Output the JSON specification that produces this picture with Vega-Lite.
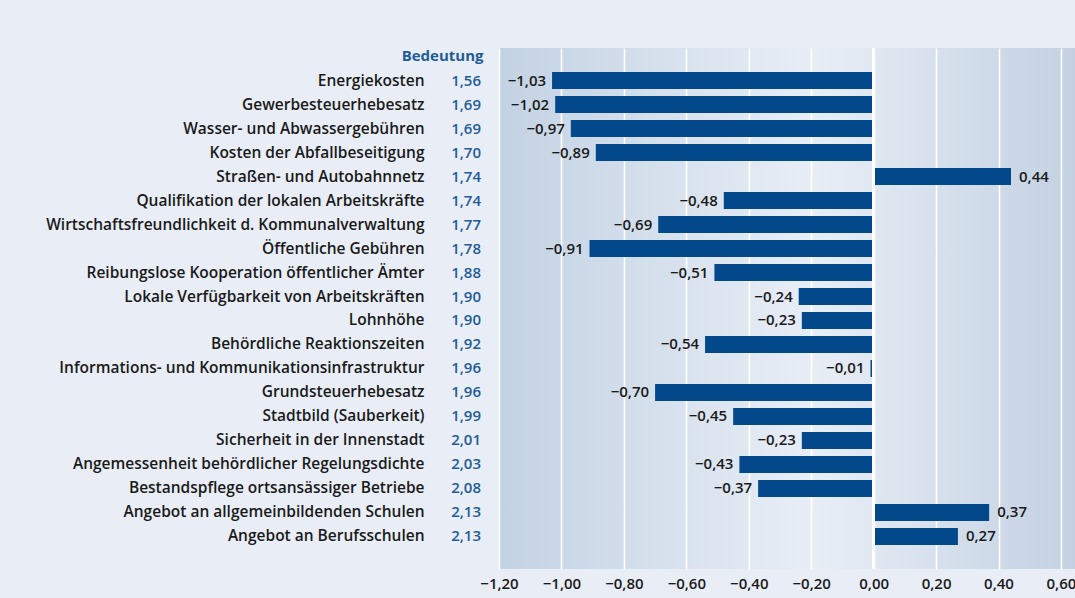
{
  "$schema": "https://vega.github.io/schema/vega-lite/v6.json",
  "autosize": "none",
  "width": 576,
  "height": 521,
  "padding": {"left": 499, "top": 48, "right": 0, "bottom": 29},
  "background": "#e9eef6",
  "config": {
    "font": "Open Sans",
    "locale": {"number": {"decimal": ",", "thousands": ".", "grouping": [3], "currency": ["", " €"], "minus": "−"}},
    "view": {
      "stroke": null,
      "fill": {
        "gradient": "linear", "x1": 0, "y1": 0, "x2": 1, "y2": 0,
        "stops": [
          {"offset": 0, "color": "#c3d2e3"},
          {"offset": 0.55, "color": "#e8eef6"},
          {"offset": 1, "color": "#c3d1e2"}
        ]
      }
    }
  },
  "data": {
    "values": [
      {"name": "Energiekosten", "bedeutung": 1.56, "value": -1.03},
      {"name": "Gewerbesteuerhebesatz", "bedeutung": 1.69, "value": -1.02},
      {"name": "Wasser- und Abwassergebühren", "bedeutung": 1.69, "value": -0.97},
      {"name": "Kosten der Abfallbeseitigung", "bedeutung": 1.70, "value": -0.89},
      {"name": "Straßen- und Autobahnnetz", "bedeutung": 1.74, "value": 0.44},
      {"name": "Qualifikation der lokalen Arbeitskräfte", "bedeutung": 1.74, "value": -0.48},
      {"name": "Wirtschaftsfreundlichkeit d. Kommunalverwaltung", "bedeutung": 1.77, "value": -0.69},
      {"name": "Öffentliche Gebühren", "bedeutung": 1.78, "value": -0.91},
      {"name": "Reibungslose Kooperation öffentlicher Ämter", "bedeutung": 1.88, "value": -0.51},
      {"name": "Lokale Verfügbarkeit von Arbeitskräften", "bedeutung": 1.90, "value": -0.24},
      {"name": "Lohnhöhe", "bedeutung": 1.90, "value": -0.23},
      {"name": "Behördliche Reaktionszeiten", "bedeutung": 1.92, "value": -0.54},
      {"name": "Informations- und Kommunikationsinfrastruktur", "bedeutung": 1.96, "value": -0.01},
      {"name": "Grundsteuerhebesatz", "bedeutung": 1.96, "value": -0.70},
      {"name": "Stadtbild (Sauberkeit)", "bedeutung": 1.99, "value": -0.45},
      {"name": "Sicherheit in der Innenstadt", "bedeutung": 2.01, "value": -0.23},
      {"name": "Angemessenheit behördlicher Regelungsdichte", "bedeutung": 2.03, "value": -0.43},
      {"name": "Bestandspflege ortsansässiger Betriebe", "bedeutung": 2.08, "value": -0.37},
      {"name": "Angebot an allgemeinbildenden Schulen", "bedeutung": 2.13, "value": 0.37},
      {"name": "Angebot an Berufsschulen", "bedeutung": 2.13, "value": 0.27}
    ]
  },
  "encoding": {
    "y": {
      "field": "name", "type": "nominal", "sort": null,
      "scale": {"paddingInner": 0.29, "paddingOuter": 1.0},
      "axis": {
        "title": "Bedeutung", "titleAngle": 0, "titleAlign": "right", "titleBaseline": "middle",
        "titleX": -16, "titleY": 7, "titleColor": "#1f5c99", "titleFontSize": 15, "titleFontWeight": "bold",
        "ticks": false, "tickSize": 0, "domain": false, "grid": false,
        "labelPadding": 75, "labelFontSize": 15.5, "labelColor": "#1a1a1a", "labelFontWeight": 600, "labelLimit": 600
      }
    }
  },
  "layer": [
    {
      "mark": {"type": "bar", "color": "#03488b"},
      "encoding": {
        "x": {
          "field": "value", "type": "quantitative",
          "scale": {"domain": [-1.2, 0.645], "nice": false, "zero": false},
          "axis": {
            "title": null, "values": [-1.2, -1.0, -0.8, -0.6, -0.4, -0.2, 0, 0.2, 0.4, 0.6], "format": ".2f",
            "grid": true, "gridColor": "#ffffff", "gridWidth": 1.6, "gridOpacity": 1,
            "ticks": false, "tickSize": 0, "domain": false, "labelPadding": 7,
            "labelFontSize": 15, "labelFontWeight": 600, "labelColor": "#1a1a1a", "labelFlush": false
          }
        }
      }
    },
    {
      "mark": {"type": "rule", "color": "#ffffff", "strokeWidth": 2.4},
      "encoding": {"x": {"datum": 0, "type": "quantitative"}, "y": null}
    },
    {
      "transform": [{"filter": "datum.value < 0"}],
      "mark": {"type": "text", "align": "right", "baseline": "middle", "dx": -6, "fontSize": 15, "fontWeight": 600, "color": "#1a1a1a"},
      "encoding": {"x": {"field": "value", "type": "quantitative"}, "text": {"field": "value", "type": "quantitative", "format": ".2f"}}
    },
    {
      "transform": [{"filter": "datum.value >= 0"}],
      "mark": {"type": "text", "align": "left", "baseline": "middle", "dx": 8, "fontSize": 15, "fontWeight": 600, "color": "#1a1a1a"},
      "encoding": {"x": {"field": "value", "type": "quantitative"}, "text": {"field": "value", "type": "quantitative", "format": ".2f"}}
    },
    {
      "mark": {"type": "text", "align": "right", "baseline": "middle", "dx": -18, "fontSize": 15, "fontWeight": 600, "color": "#1f5c99"},
      "encoding": {"x": {"datum": -1.2, "type": "quantitative"}, "text": {"field": "bedeutung", "type": "quantitative", "format": ".2f"}}
    }
  ]
}
